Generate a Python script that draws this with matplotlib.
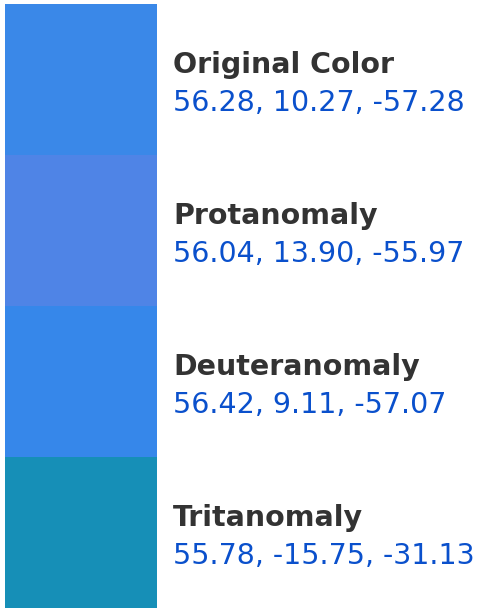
import matplotlib
matplotlib.use("Agg")
import matplotlib.pyplot as plt

names = ["Original Color", "Protanomaly", "Deuteranomaly", "Tritanomaly"]
lab_values = [(56.28, 10.27, -57.28), (56.04, 13.90, -55.97),
              (56.42, 9.11, -57.07), (55.78, -15.75, -31.13)]
colors = ["#3a88e8", "#4f84e6", "#3687ea", "#168fb7"]

W, H = 478, 608
fig = plt.figure(figsize=(W / 100, H / 100), dpi=100)
ax = fig.add_axes([0, 0, 1, 1])
ax.set_xlim(0, W)
ax.set_ylim(H, 0)
ax.axis("off")

top = 4
step = 151
for i, (name, lab, col) in enumerate(zip(names, lab_values, colors)):
    y0 = top + i * step
    ax.barh(y0 + step / 2, 152, left=5, height=step, color=col, linewidth=0)
    ax.text(173, y0 + 69, name, fontsize=20.5, fontweight="bold",
            color="#333333", va="baseline", ha="left")
    txt = ", ".join("%.2f" % v for v in lab)
    ax.text(173, y0 + 107, txt, fontsize=20.5, color="#0a50cc",
            va="baseline", ha="left")

fig.savefig("out.png", dpi=100)
